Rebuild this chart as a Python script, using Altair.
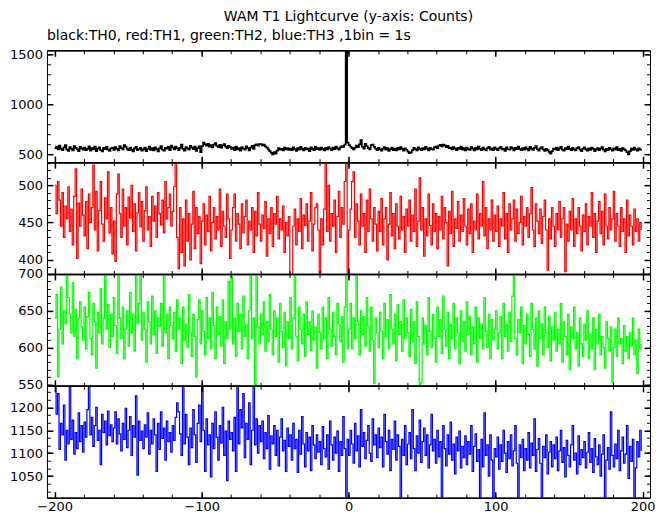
import altair as alt
import pandas as pd

# ---------------- data (counts per 1 s bin, t = -200 ... 199 s) ----------------
T_START = -200

TH0 = [
    560, 575, 548, 585, 552, 540, 568, 590, 545, 532, 570, 556, 538, 580, 562, 548, 530, 572, 558, 544,
    566, 540, 552, 578, 535, 560, 547, 575, 530, 555, 569, 541, 528, 562, 550, 574, 546, 533, 558, 566,
    542, 571, 553, 537, 580, 560, 548, 590, 575, 552, 539, 566, 545, 528, 557, 572, 541, 550, 563, 535,
    548, 566, 530, 553, 575, 542, 560, 537, 569, 551, 527, 558, 580, 546, 534, 562, 555, 572, 540, 585,
    566, 548, 575, 557, 540, 563, 595, 552, 536, 571, 558, 545, 584, 566, 549, 575, 532, 560, 578, 520,
    580, 615, 598, 586, 604, 575, 590, 568, 596, 610, 582, 571, 593, 565, 588, 602, 576, 560, 584, 570,
    552, 566, 540, 575, 548, 560, 534, 571, 556, 545, 578, 560, 538, 566, 583, 552, 590, 598, 585, 602,
    600, 588, 595, 578, 565, 548, 530, 512, 498, 520, 505, 535, 560, 545, 552, 538, 566, 548, 560, 542,
    555, 540, 567, 550, 532, 560, 545, 572, 551, 538, 563, 547, 556, 530, 568, 552, 541, 574, 549, 560,
    543, 566, 552, 537, 562, 548, 571, 555, 540, 566, 550, 575, 558, 545, 568, 580, 572, 596, 1800, 615,
    590, 575, 560, 548, 566, 585, 570, 598, 640, 575, 556, 604, 580, 560, 548, 590, 595, 572, 555, 540,
    562, 548, 535, 556, 570, 545, 560, 532, 550, 566, 541, 555, 538, 562, 548, 571, 552, 536, 558, 544,
    525, 510, 518, 540, 562, 550, 538, 567, 553, 541, 560, 548, 572, 556, 537, 563, 550, 544, 568, 575,
    560, 586, 592, 578, 595, 588, 570, 582, 560, 566, 548, 571, 555, 540, 563, 552, 576, 545, 560, 538,
    565, 550, 542, 571, 556, 538, 562, 548, 575, 553, 540, 566, 551, 537, 560, 572, 545, 558, 541, 567,
    552, 539, 561, 574, 548, 556, 533, 567, 550, 544, 570, 557, 538, 563, 549, 575, 552, 541, 560, 546,
    568, 553, 538, 572, 556, 543, 562, 580, 549, 535, 558, 570, 547, 533, 552, 540, 522, 505, 530, 556,
    548, 566, 540, 557, 572, 546, 535, 561, 550, 576, 553, 540, 564, 548, 537, 560, 571, 545, 530, 556,
    568, 547, 535, 558, 543, 566, 552, 530, 548, 561, 539, 555, 570, 546, 528, 553, 540, 564, 549, 535,
    558, 546, 570, 541, 552, 533, 561, 548, 538, 520, 498, 530, 555, 542, 566, 548, 535, 559, 545, 552,
]

TH1 = [
    500, 462, 505, 480, 445, 490, 430, 472, 455, 498, 438, 468, 420, 485, 522, 402, 476, 445, 495, 460,
    432, 478, 415, 488, 450, 470, 527, 440, 492, 412, 466, 505, 448, 425, 483, 455, 518, 436, 470, 408,
    452, 398, 488, 515, 462, 430, 495, 445, 470, 420, 484, 456, 500, 438, 475, 412, 463, 490, 444, 478,
    425, 466, 498, 440, 458, 418, 485, 452, 472, 430, 490, 462, 447, 480, 436, 505, 455, 470, 488, 445,
    465, 498, 540, 430, 388, 470, 410, 455, 392, 480, 425, 462, 400, 448, 492, 415, 470, 435, 458, 395,
    452, 475, 420, 460, 438, 485, 412, 450, 470, 428, 458, 440, 495, 418, 465, 445, 430, 488, 455, 402,
    440, 470, 488, 425, 462, 448, 415, 475, 436, 458, 480, 420, 452, 440, 470, 410, 465, 432, 490, 448,
    425, 460, 442, 478, 405, 455, 435, 470, 418, 462, 448, 485, 428, 455, 440, 472, 410, 450, 432, 458,
    375, 378, 445, 468, 420, 455, 438, 482, 415, 460, 446, 475, 425, 452, 490, 412, 448, 470, 475, 440,
    372, 455, 420, 468, 545, 438, 500, 425, 462, 445, 480, 410, 458, 492, 430, 470, 448, 505, 560, 376,
    440, 468, 505, 518, 430, 475, 452, 420, 488, 445, 462, 410, 480, 438, 495, 455, 425, 470, 448, 412,
    465, 438, 482, 420, 455, 470, 400, 448, 490, 432, 462, 415, 475, 445, 428, 485, 440, 458, 410, 468,
    445, 480, 425, 460, 438, 495, 418, 452, 510, 440, 470, 405, 455, 432, 488, 446, 420, 475, 438, 462,
    415, 458, 440, 485, 428, 470, 450, 392, 465, 435, 492, 418, 455, 442, 478, 425, 460, 438, 482, 445,
    420, 468, 435, 475, 410, 452, 440, 488, 428, 462, 445, 505, 432, 470, 415, 455, 440, 480, 425, 460,
    438, 472, 418, 455, 445, 490, 428, 462, 410, 475, 440, 455, 480, 425, 468, 435, 450, 485, 420, 458,
    445, 470, 430, 462, 497, 440, 418, 475, 452, 435, 468, 422, 458, 480, 440, 386, 455, 428, 470, 445,
    418, 462, 440, 478, 430, 455, 470, 384, 448, 425, 465, 440, 482, 418, 455, 435, 470, 445, 412, 460,
    438, 475, 420, 458, 445, 490, 430, 462, 410, 452, 478, 435, 465, 420, 488, 445, 428, 470, 440, 455,
    492, 425, 462, 445, 418, 470, 438, 455, 410, 480, 432, 460, 445, 420, 468, 438, 455, 425, 450, 440,
]

TH2 = [
    640, 672, 560, 625, 682, 605, 650, 632, 700, 668, 645, 620, 688, 615, 652, 585, 640, 662, 628, 610,
    655, 598, 642, 675, 612, 590, 660, 635, 572, 648, 620, 680, 605, 640, 702, 625, 658, 600, 645, 615,
    668, 630, 592, 700, 640, 612, 655, 585, 625, 650, 602, 675, 620, 645, 595, 700, 632, 660, 701, 610,
    648, 625, 580, 662, 635, 605, 670, 618, 650, 592, 640, 628, 660, 602, 700, 620, 645, 585, 655, 630,
    612, 648, 595, 665, 625, 640, 578, 655, 610, 632, 600, 672, 620, 588, 645, 615, 560, 638, 665, 605,
    650, 622, 590, 668, 612, 640, 598, 675, 630, 585, 655, 618, 642, 602, 665, 578, 635, 612, 690, 625,
    701, 605, 640, 588, 660, 622, 645, 598, 670, 615, 632, 585, 650, 700, 612, 640, 550, 702, 628, 605,
    645, 618, 662, 595, 635, 608, 672, 625, 590, 650, 615, 640, 580, 660, 622, 600, 648, 575, 635, 612,
    668, 598, 640, 701, 615, 582, 655, 625, 605, 645, 588, 662, 618, 635, 596, 650, 610, 628, 572, 645,
    620, 598, 655, 612, 640, 585, 668, 625, 602, 648, 615, 590, 660, 632, 608, 642, 580, 655, 702, 598,
    625, 660, 598, 640, 612, 701, 635, 590, 650, 618, 642, 602, 668, 628, 595, 655, 610, 551, 640, 620,
    600, 648, 622, 585, 660, 615, 638, 598, 672, 625, 605, 645, 582, 658, 618, 635, 595, 665, 612, 640,
    620, 588, 652, 608, 635, 578, 662, 615, 550, 552, 640, 605, 630, 590, 668, 622, 600, 645, 612, 580,
    655, 615, 638, 592, 670, 625, 602, 648, 585, 632, 612, 660, 598, 640, 620, 578, 650, 608, 635, 595,
    662, 618, 642, 590, 628, 605, 655, 580, 640, 612, 632, 598, 668, 622, 600, 645, 585, 638, 610, 625,
    650, 598, 620, 642, 585, 660, 615, 632, 595, 648, 608, 670, 702, 612, 590, 638, 620, 655, 578, 630,
    605, 645, 618, 588, 660, 625, 598, 640, 575, 650, 612, 632, 590, 655, 620, 600, 642, 582, 628, 610,
    648, 595, 625, 605, 660, 580, 635, 615, 590, 645, 570, 628, 612, 655, 598, 620, 575, 640, 605, 588,
    632, 610, 650, 585, 618, 598, 640, 570, 625, 605, 645, 590, 615, 600, 572, 635, 612, 595, 628, 552,
    600, 625, 588, 640, 605, 612, 578, 630, 595, 615, 585, 620, 602, 640, 590, 610, 565, 625, 598, 605,
]

TH3 = [
    1260, 1185, 1230, 1108, 1165, 1140, 1205, 1085, 1150, 1120, 1255, 1130, 1172, 1098, 1145, 1110, 1188, 1125, 1160, 1102,
    1168, 1135, 1195, 1252, 1140, 1178, 1115, 1160, 1200, 1128, 1150, 1075, 1185, 1145, 1170, 1118, 1192, 1138, 1162, 1125,
    1155, 1190, 1120, 1175, 1142, 1105, 1165, 1130, 1198, 1112, 1150, 1180, 1095, 1160, 1135, 1225, 1052, 1170, 1128, 1148,
    1110, 1162, 1135, 1188, 1098, 1150, 1120, 1175, 1140, 1060, 1165, 1108, 1190, 1132, 1155, 1085, 1170, 1125, 1145, 1102,
    1160, 1128, 1178, 1210, 1190, 1142, 1095, 1255, 1120, 1185, 1135, 1075, 1155, 1112, 1195, 1140, 1080, 1165, 1205, 1125,
    1252, 1150, 1060, 1175, 1118, 1140, 1048, 1165, 1110, 1190, 1135, 1085, 1160, 1122, 1200, 1095, 1148, 1040, 1170, 1130,
    1145, 1105, 1178, 1060, 1250, 1120, 1195, 1155, 1230, 1090, 1165, 1130, 1210, 1075, 1150, 1255, 1118, 1175, 1100, 1160,
    1125, 1170, 1088, 1145, 1110, 1182, 1065, 1138, 1120, 1160, 1095, 1150, 1072, 1135, 1175, 1105, 1128, 1060, 1155, 1115,
    1140, 1085, 1165, 1110, 1130, 1058, 1150, 1098, 1180, 1120, 1070, 1145, 1105, 1135, 1062, 1160, 1118, 1088, 1140, 1102,
    1125, 1075, 1158, 1110, 1092, 1140, 1065, 1170, 1118, 1085, 1135, 1100, 1148, 1060, 1125, 1095, 1180, 1110, 990, 1130,
    1095, 1150, 1120, 1078, 1165, 1105, 1138, 1070, 1195, 1115, 1145, 1088, 1128, 1160, 1100, 1082, 1175, 1118, 1140, 1090,
    1155, 1112, 1135, 1070, 1185, 1125, 1098, 1150, 1062, 1130, 1108, 1170, 1085, 1140, 1115, 1000, 1130, 1095, 1160, 1075,
    1120, 1145, 1088, 1195, 1110, 1062, 1138, 1100, 1172, 1080, 1125, 1155, 1095, 1140, 1068, 1118, 1185, 1105, 1130, 1078,
    1150, 1092, 1125, 995, 1160, 1110, 1072, 1140, 1098, 1168, 1085, 1120, 1055, 1135, 1105, 1148, 1068, 1115, 1090, 1138,
    1075, 1125, 1098, 1160, 1060, 1115, 1142, 1082, 1108, 995, 1130, 1070, 1188, 1095, 1118, 1050, 1140, 1085, 998, 1110,
    1092, 1135, 1065, 1118, 1082, 1150, 1100, 1058, 1125, 1088, 1140, 1072, 1105, 1160, 1078, 1000, 1118, 1090, 1130, 1062,
    1110, 1085, 1145, 1068, 1122, 1095, 1175, 1060, 1108, 1132, 1078, 998, 1115, 1090, 1140, 1055, 1102, 1125, 1070, 1118,
    1088, 1135, 1062, 1105, 1150, 1080, 1112, 1048, 1128, 1095, 1070, 1118, 1160, 1085, 1100, 1055, 1138, 1075, 1108, 1090,
    1125, 1068, 1102, 1145, 1080, 1110, 1058, 1132, 1092, 1075, 1118, 1050, 1098, 1140, 998, 1085, 1112, 1065, 1190, 1095,
    1070, 1120, 1088, 1150, 1062, 1105, 1135, 1078, 1098, 1160, 1045, 1115, 1082, 1130, 1000, 1068, 1125, 1092, 1150, 1105,
]

TITLE = "WAM T1 Lightcurve (y-axis: Counts)"
SUBTITLE = "black:TH0, red:TH1, green:TH2, blue:TH3 ,1bin = 1s"

X_DOMAIN = [-205.2, 205.0]
X_MAJOR = [-200, -100, 0, 100, 200]
X_MINOR = [-200 + 20 * i for i in range(21)]

PANELS = [
    dict(values=TH0, color="#000000", lw=1.7, domain=[419, 1545],
         major=[500, 1000, 1500], minor=[500 + 100 * i for i in range(11)]),
    dict(values=TH1, color="#ff0000", lw=1.2, domain=[381, 531],
         major=[400, 450, 500], minor=[390 + 10 * i for i in range(15)]),
    dict(values=TH2, color="#00ff00", lw=1.2, domain=[548, 700],
         major=[550, 600, 650, 700], minor=[550 + 10 * i for i in range(16)]),
    dict(values=TH3, color="#0000ff", lw=1.2, domain=[1003, 1247],
         major=[1050, 1100, 1150, 1200], minor=[round(1050 + 50 * i / 3, 2) for i in range(-2, 12)]),
]

FONT = "DejaVu Sans"
MAJ, MINL = 6, 3.5


def axis(orient, values, size, width, labels=False, domain=False, pad=0):
    props = dict(orient=orient, values=values, title=None, grid=False, domain=domain,
                 ticks=True, tickSize={"expr": str(-size)}, tickWidth=width,
                 tickColor="black", labels=labels, zindex=1)
    if domain:
        props.update(domainColor="black", domainWidth=1.5)
    if labels:
        props.update(format="d", labelFont=FONT, labelFontSize=13, labelColor="black",
                     labelPadding=pad, labelFlush=False, labelOverlap=False)
    return alt.Axis(**props)


def panel(p, last, title=None):
    n = len(p["values"])
    df = pd.DataFrame({"t": list(range(T_START, T_START + n)), "v": p["values"]})
    xs = alt.Scale(domain=X_DOMAIN, nice=False, zero=False)
    ys = alt.Scale(domain=p["domain"], nice=False, zero=False)
    base = alt.Chart(df)

    def enc(xax, yax):
        return dict(x=alt.X("t:Q", scale=xs, axis=xax), y=alt.Y("v:Q", scale=ys, axis=yax))

    line = base.mark_line(color=p["color"], strokeWidth=p["lw"], interpolate="step-after",
                          clip=True).encode(
        **enc(axis("bottom", X_MAJOR, MAJ, 1.5, labels=last, domain=True, pad=9),
              axis("left", p["major"], MAJ, 1.5, labels=True, pad=10.5)))
    ghost = dict(strokeOpacity=0, clip=True, interpolate="step-after")
    l1 = base.mark_line(**ghost).encode(
        **enc(axis("bottom", X_MINOR, MINL, 1), axis("left", p["minor"], MINL, 1)))
    l2 = base.mark_line(**ghost).encode(
        **enc(axis("top", X_MAJOR, MAJ, 1.5, domain=True), axis("right", p["major"], MAJ, 1.5)))
    l3 = base.mark_line(**ghost).encode(
        **enc(axis("top", X_MINOR, MINL, 1), axis("right", p["minor"], MINL, 1)))

    props = dict(width=604, height=112)
    if title is not None:
        props["title"] = title
    return alt.layer(line, l1, l2, l3).resolve_axis(x="independent", y="independent").properties(**props)


sub = alt.TitleParams(SUBTITLE, anchor="start", frame="group", font=FONT, fontSize=14,
                      fontWeight="normal", color="black", offset=6)
charts = [panel(p, i == len(PANELS) - 1, sub if i == 0 else None) for i, p in enumerate(PANELS)]

chart = alt.vconcat(*charts, spacing=0, bounds="flush").properties(
    title=alt.TitleParams(TITLE, anchor="middle", frame="group", font=FONT, fontSize=14,
                          fontWeight="normal", color="black", offset=4),
    padding={"left": 0, "top": 1, "right": 5, "bottom": 0},
    background="white",
).configure_view(stroke="black", strokeWidth=1)

chart.save("out.html", embed_options={"renderer": "svg", "actions": False})
